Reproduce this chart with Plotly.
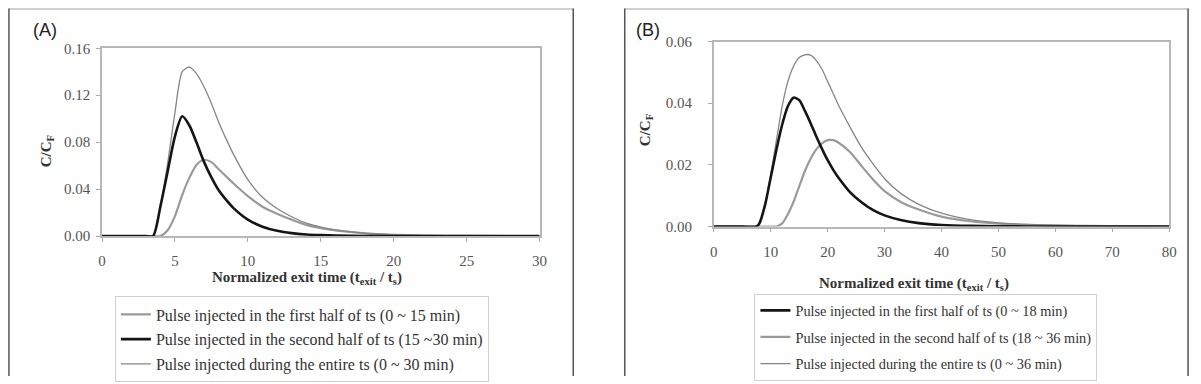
import plotly.graph_objects as go

W, H = 1201, 384

# ---------------- Data ----------------
# Panel (A)
xA = [0, 1, 2, 3, 3.5, 4, 4.5, 5, 5.5, 6, 6.5, 7, 7.5, 8, 8.5, 9, 10, 11, 12, 13, 14, 15, 16, 18, 20, 22, 25, 30]
a_first = [0, 0, 0, 0, 0, 0, 0.005, 0.017, 0.035, 0.050, 0.061, 0.065, 0.063, 0.057, 0.051, 0.045,
           0.034, 0.025, 0.019, 0.014, 0.0095, 0.0068, 0.0048, 0.0023, 0.0011, 0.0005, 0.0002, 0]
a_second = [0, 0, 0, 0, 0, 0.025, 0.055, 0.085, 0.102, 0.094, 0.079, 0.063, 0.050, 0.039, 0.031, 0.024,
            0.014, 0.008, 0.0045, 0.0025, 0.0014, 0.0008, 0.0004, 0.0001, 0, 0, 0, 0]
a_entire = [0, 0, 0, 0, 0, 0.025, 0.062, 0.105, 0.140, 0.144, 0.138, 0.127, 0.113, 0.097, 0.083, 0.070,
            0.048, 0.033, 0.0235, 0.0165, 0.011, 0.0076, 0.0052, 0.0024, 0.0011, 0.0005, 0.0002, 0]
a_names = ["Pulse injected in the first half of ts (0 ~ 15 min)",
           "Pulse injected in the second half of ts (15 ~30 min)",
           "Pulse injected during the entire ts (0 ~ 30 min)"]
a_xticks = [0, 5, 10, 15, 20, 25, 30]
a_yticks = [0.00, 0.04, 0.08, 0.12, 0.16]

# Panel (B)
xB = [0, 5, 7.5, 8, 9, 10, 11, 12, 13, 14, 15, 16, 17, 18, 19, 20, 21, 22, 24, 26, 28, 30, 33, 36, 40, 45, 50, 55, 60, 70, 80]
b_first = [0, 0, 0, 0.001, 0.007, 0.016, 0.025, 0.033, 0.039, 0.0418, 0.041, 0.0375, 0.0335, 0.0292, 0.0252, 0.0215,
           0.0183, 0.0156, 0.011, 0.0078, 0.0053, 0.0036, 0.002, 0.0011, 0.0005, 0.0002, 0.0001, 0, 0, 0, 0]
b_second = [0, 0, 0, 0, 0, 0, 0, 0.001, 0.004, 0.008, 0.013, 0.018, 0.022, 0.025, 0.027, 0.028,
            0.028, 0.0271, 0.024, 0.0195, 0.0152, 0.0115, 0.0078, 0.0055, 0.0032, 0.0017, 0.0009, 0.0005, 0.0003, 0.0001, 0]
b_entire = [0, 0, 0, 0.001, 0.007, 0.017, 0.028, 0.039, 0.047, 0.052, 0.0548, 0.0557, 0.0556, 0.0538, 0.051, 0.047,
            0.043, 0.039, 0.032, 0.0255, 0.0202, 0.0155, 0.0105, 0.0072, 0.0043, 0.0022, 0.0012, 0.0007, 0.0004, 0.0001, 0]
b_names = ["Pulse injected in the first half of ts (0 ~ 18 min)",
           "Pulse injected in the second half of ts (18 ~ 36 min)",
           "Pulse injected during the entire ts (0 ~ 36 min)"]
b_xticks = [0, 10, 20, 30, 40, 50, 60, 70, 80]
b_yticks = [0.00, 0.02, 0.04, 0.06]

# ---------------- Styles ----------------
BLACK = "#151515"
GRAY_THICK = "#9a9a9a"
GRAY_THIN = "#858585"
SERIF = "Liberation Serif, Times New Roman, serif"
SANS = "Liberation Sans, Arial, sans-serif"

fig = go.Figure()

def add(x, y, name, color, width, xa, ya, legend, group, rank):
    fig.add_trace(go.Scatter(
        x=x, y=y, name=name, mode="lines",
        line=dict(color=color, width=width, shape="spline", smoothing=0.7),
        xaxis=xa, yaxis=ya, legend=legend, legendgroup=group, legendrank=rank,
        hoverinfo="skip"))

add(xA, a_first, a_names[0], GRAY_THICK, 2.2, "x", "y", "legend", "a1", 1)
add(xA, a_entire, a_names[2], GRAY_THIN, 1.3, "x", "y", "legend", "a3", 3)
add(xA, a_second, a_names[1], BLACK, 2.6, "x", "y", "legend", "a2", 2)

add(xB, b_second, b_names[1], GRAY_THICK, 2.2, "x2", "y2", "legend2", "b2", 2)
add(xB, b_entire, b_names[2], GRAY_THIN, 1.3, "x2", "y2", "legend2", "b3", 3)
add(xB, b_first, b_names[0], BLACK, 2.6, "x2", "y2", "legend2", "b1", 1)

def px(v):
    return v / W

def py(v):
    return 1 - v / H

axis_common = dict(showgrid=False, zeroline=False, showline=True, mirror=True,
                   linecolor="#b8b8b8", linewidth=1.5, ticks="outside", ticklen=4,
                   tickcolor="#aaaaaa", tickwidth=1,
                   tickfont=dict(family=SERIF, size=15, color="#555555"))

legend_common = dict(xanchor="left", yanchor="top",
                     bordercolor="#d0d0d0", borderwidth=1, bgcolor="white",
                     traceorder="grouped", itemwidth=30)

fig.update_layout(
    width=W, height=H,
    margin=dict(l=0, r=0, t=0, b=0),
    paper_bgcolor="white", plot_bgcolor="white",
    xaxis=dict(domain=[px(99), px(541)], range=[0, 30], tickvals=a_xticks,
               anchor="y", ticklabelstandoff=6, **axis_common),
    yaxis=dict(domain=[py(238), py(42)], range=[0, 0.16], tickvals=a_yticks,
               tickformat=".2f", anchor="x", ticklabelstandoff=3, **axis_common),
    xaxis2=dict(domain=[px(717), px(1177)], range=[0, 80], tickvals=b_xticks,
                anchor="y2", ticklabelstandoff=7, **axis_common),
    yaxis2=dict(domain=[py(228), py(35)], range=[0, 0.06], tickvals=b_yticks,
                tickformat=".2f", anchor="x2", ticklabelstandoff=13, **axis_common),
    legend=dict(x=px(112), y=py(301), tracegroupgap=1,
                font=dict(family=SERIF, size=16, color="#333333"), **legend_common),
    legend2=dict(x=px(758), y=py(298), tracegroupgap=5,
                 font=dict(family=SERIF, size=14.3, color="#333333"), **legend_common),
    showlegend=True,
)

annos = [
    dict(text="(A)", x=px(41), y=py(23), font=dict(family=SANS, size=18, color="#222")),
    dict(text="(B)", x=px(650), y=py(23), font=dict(family=SANS, size=18, color="#222")),
    dict(text="<b>C/C<sub>F</sub></b>", x=px(43), y=py(150), textangle=-90,
         font=dict(family=SERIF, size=15, color="#333")),
    dict(text="<b>C/C<sub>F</sub></b>", x=px(648), y=py(128), textangle=-90,
         font=dict(family=SERIF, size=15, color="#333")),
    dict(text="<b>Normalized exit time (t<sub>exit</sub> / t<sub>s</sub>)</b>", x=px(306), y=py(282),
         font=dict(family=SERIF, size=15, color="#333")),
    dict(text="<b>Normalized exit time (t<sub>exit</sub> / t<sub>s</sub>)</b>", x=px(919), y=py(288),
         font=dict(family=SERIF, size=15, color="#333")),
]
for a in annos:
    fig.add_annotation(xref="paper", yref="paper", showarrow=False,
                       xanchor="center", yanchor="middle", **a)

# outer panel frames
for x0, x1 in [(5, 575), (627, 1196)]:
    fig.add_shape(type="line", xref="paper", yref="paper", x0=px(x0), x1=px(x1), y0=py(1), y1=py(1),
                  line=dict(color="#c0c0c0", width=1.5))
    for xx in (x0, x1):
        fig.add_shape(type="line", xref="paper", yref="paper", x0=px(xx), x1=px(xx), y0=py(0.5), y1=py(384),
                      line=dict(color="#555555", width=1.5))

fig.write_html("out.html")
